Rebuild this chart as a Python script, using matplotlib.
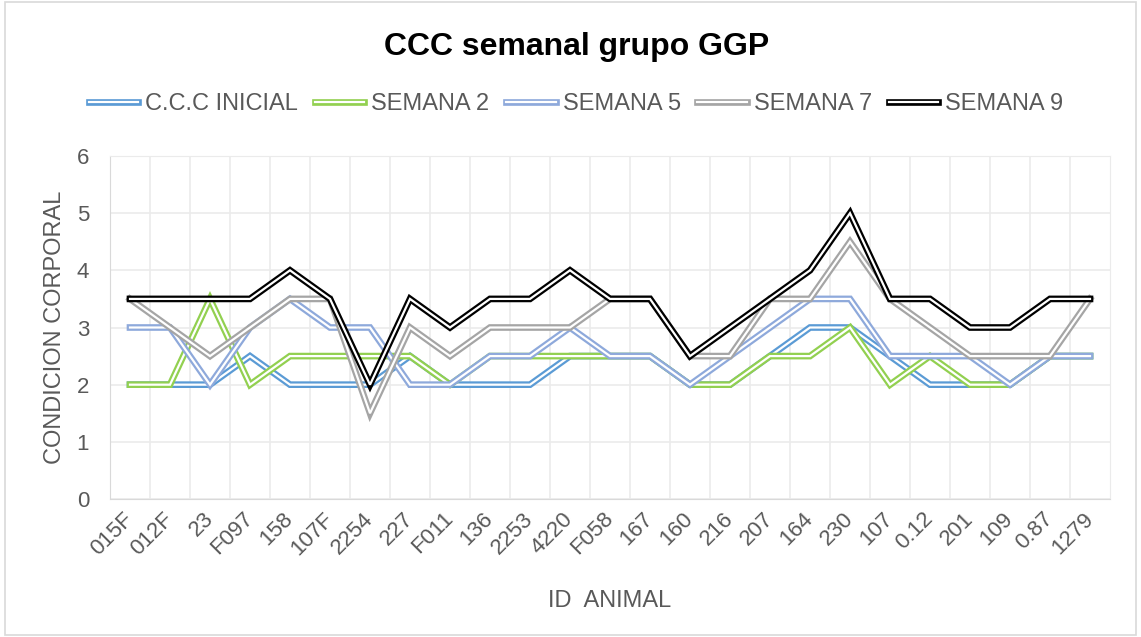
import matplotlib
matplotlib.use("Agg")
import matplotlib.pyplot as plt
from matplotlib.patches import Rectangle

plt.rcParams['font.family'] = ['Liberation Sans', 'DejaVu Sans']

# datos
animales = ['015F', '012F', '23', 'F097', '158', '107F', '2254', '227', 'F011', '136',
            '2253', '4220', 'F058', '167', '160', '216', '207', '164', '230', '107',
            '0.12', '201', '109', '0.87', '1279']
ccc_inicial = [2, 2, 2, 2.5, 2, 2, 2, 2.5, 2, 2, 2, 2.5, 2.5, 2.5, 2, 2, 2.5, 3, 3, 2.5,
               2, 2, 2, 2.5, 2.5]
semana_2 = [2, 2, 3.5, 2, 2.5, 2.5, 2.5, 2.5, 2, 2.5, 2.5, 2.5, 2.5, 2.5, 2, 2, 2.5, 2.5,
            3, 2, 2.5, 2, 2, 2.5, 2.5]
semana_5 = [3, 3, 2, 3, 3.5, 3, 3, 2, 2, 2.5, 2.5, 3, 2.5, 2.5, 2, 2.5, 3, 3.5, 3.5, 2.5,
            2.5, 2.5, 2, 2.5, 2.5]
semana_7 = [3.5, 3, 2.5, 3, 3.5, 3.5, 1.5, 3, 2.5, 3, 3, 3, 3.5, 3.5, 2.5, 2.5, 3.5, 3.5,
            4.5, 3.5, 3, 2.5, 2.5, 2.5, 3.5]
semana_9 = [3.5, 3.5, 3.5, 3.5, 4, 3.5, 2, 3.5, 3, 3.5, 3.5, 4, 3.5, 3.5, 2.5, 3, 3.5, 4,
            5, 3.5, 3.5, 3, 3, 3.5, 3.5]

series = [
    ('C.C.C INICIAL', ccc_inicial, '#5B9BD5'),
    ('SEMANA 2', semana_2, '#92D050'),
    ('SEMANA 5', semana_5, '#8EA9DB'),
    ('SEMANA 7', semana_7, '#A5A5A5'),
    ('SEMANA 9', semana_9, '#000000'),
]

gris_texto = '#595959'

fig = plt.figure(figsize=(11.41, 6.37), dpi=100)
ax = fig.add_axes([110 / 1141, 1 - 499 / 637, 1000 / 1141, 343 / 637])

x = list(range(len(animales)))
handles = []
for nombre, valores, color in series:
    # linea doble estilo Excel: trazo grueso de color con centro blanco
    l1, = ax.plot(x, valores, color=color, lw=4.8, solid_joinstyle='miter')
    l2, = ax.plot(x, valores, color='white', lw=1.6, solid_joinstyle='miter')
    handles.append((l1, l2))

ax.set_xlim(-0.5, len(animales) - 0.5)
ax.set_ylim(0, 6)
ax.set_yticks(range(0, 7))
ax.set_xticks(x)
ax.set_xticklabels(animales, rotation=45, ha='right', va='center',
                   rotation_mode='anchor', fontsize=16, color=gris_texto)
ax.tick_params(axis='y', labelsize=16, labelcolor=gris_texto, length=0, pad=15)
ax.tick_params(axis='x', length=0, pad=12)

# cuadricula
ax.set_xticks([i + 0.5 for i in x[:-1]], minor=True)
ax.tick_params(axis='x', which='minor', length=0)
ax.grid(True, axis='y', color='#EBEBEB', lw=1.2)
ax.grid(True, axis='x', which='minor', color='#EBEBEB', lw=1.2)
ax.set_axisbelow(True)
for lado in ['top', 'right']:
    ax.spines[lado].set_color('#EBEBEB')
for lado in ['left', 'bottom']:
    ax.spines[lado].set_color('#D9D9D9')

ax.set_ylabel('CONDICION CORPORAL', fontsize=17, color=gris_texto, labelpad=8)
ax.set_xlabel('ID  ANIMAL', fontsize=17, color=gris_texto, labelpad=22)

fig.text(0.505, 1 - 47 / 637, 'CCC semanal grupo GGP', ha='center', va='center',
         fontsize=23, fontweight='bold', color='black')

fig.legend(handles, [s[0] for s in series], loc='center',
           bbox_to_anchor=(576 / 1141, 1 - 104 / 637), ncol=5, frameon=False,
           fontsize=17, handlelength=2.1, handletextpad=0.3, columnspacing=0.7,
           labelcolor=gris_texto)

# borde exterior del grafico
fig.patches.append(Rectangle((5 / 1141, 2 / 637), 1 - 10 / 1141, 1 - 4 / 637,
                             transform=fig.transFigure, fill=False,
                             edgecolor='#D9D9D9', lw=1.2))

fig.savefig('out.png', dpi=100)
